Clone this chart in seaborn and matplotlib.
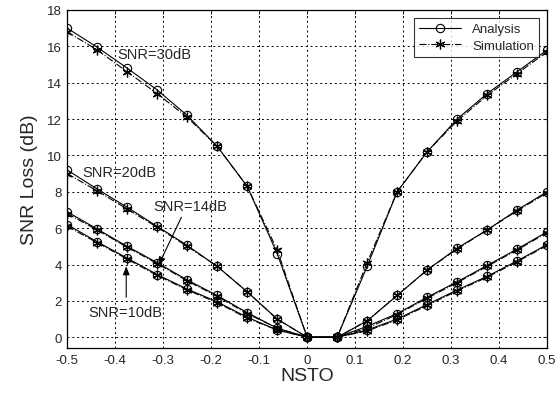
import numpy as np
import pandas as pd
import seaborn as sns
import matplotlib.pyplot as plt

# normalised symbol timing offset, steps of 1/16
nsto = [-0.5, -0.4375, -0.375, -0.3125, -0.25, -0.1875, -0.125, -0.0625,
        0.0, 0.0625, 0.125, 0.1875, 0.25, 0.3125, 0.375, 0.4375, 0.5]

ana_30 = [17.0, 15.95, 14.8, 13.6, 12.2, 10.5, 8.3, 4.6, 0.0, 0.0, 3.9, 8.0, 10.2, 12.0, 13.4, 14.6, 15.8]
sim_30 = [16.8, 15.8, 14.6, 13.4, 12.1, 10.5, 8.3, 4.8, 0.0, 0.0, 4.1, 8.0, 10.2, 11.9, 13.3, 14.5, 15.7]
ana_20 = [9.2, 8.15, 7.15, 6.1, 5.05, 3.9, 2.5, 1.0, 0.0, 0.0, 0.9, 2.3, 3.7, 4.9, 5.9, 7.0, 8.0]
sim_20 = [9.0, 8.05, 7.05, 6.05, 5.0, 3.9, 2.5, 1.0, 0.0, 0.0, 0.9, 2.3, 3.7, 4.85, 5.9, 6.95, 7.95]
ana_14 = [6.9, 5.95, 5.0, 4.1, 3.15, 2.3, 1.35, 0.5, 0.0, 0.0, 0.6, 1.3, 2.2, 3.05, 3.95, 4.85, 5.8]
sim_14 = [6.8, 5.9, 4.95, 4.05, 3.1, 2.25, 1.3, 0.5, 0.0, 0.0, 0.5, 1.25, 2.15, 3.0, 3.9, 4.8, 5.75]
ana_10 = [6.2, 5.25, 4.35, 3.45, 2.65, 1.95, 1.1, 0.4, 0.0, 0.0, 0.4, 1.0, 1.8, 2.6, 3.35, 4.2, 5.1]
sim_10 = [6.1, 5.2, 4.3, 3.4, 2.6, 1.9, 1.05, 0.4, 0.0, 0.0, 0.35, 0.95, 1.75, 2.55, 3.3, 4.15, 5.05]

analysis = [ana_30, ana_20, ana_14, ana_10]
simulation = [sim_30, sim_20, sim_14, sim_10]

sns.set_style("white")
plt.rcParams["font.family"] = ["Liberation Sans", "DejaVu Sans"]

fig = plt.figure(figsize=(5.6, 4.06), dpi=100)
ax = fig.add_axes([0.12, 0.14, 0.857, 0.833])

for i, (a, s) in enumerate(zip(analysis, simulation)):
    sns.lineplot(x=nsto, y=a, ax=ax, color="k", lw=0.8, marker="o", markersize=6,
                 markerfacecolor="none", markeredgecolor="k", markeredgewidth=0.8,
                 label="Analysis" if i == 0 else None)
    sns.lineplot(x=nsto, y=s, ax=ax, color="k", lw=0.8, linestyle="-.", marker=(6, 2, 0),
                 markersize=7, markeredgecolor="k", markeredgewidth=0.9,
                 label="Simulation" if i == 0 else None)

ax.set_xlim(-0.5, 0.5)
ax.set_ylim(-0.6, 18)
ax.set_xticks(np.arange(-0.5, 0.51, 0.1))
ax.set_xticklabels(["-0.5", "-0.4", "-0.3", "-0.2", "-0.1", "0", "0.1", "0.2", "0.3", "0.4", "0.5"])
ax.set_yticks(range(0, 19, 2))
ax.grid(True, color="k", linestyle=(0, (2, 3)), linewidth=0.7)
ax.tick_params(direction="in", length=3, labelsize=9.5, top=True, right=True, pad=4)
for sp in ax.spines.values():
    sp.set_color("k")
    sp.set_linewidth(0.9)

ax.set_xlabel("NSTO", fontsize=14, labelpad=1)
ax.set_ylabel("SNR Loss (dB)", fontsize=14, labelpad=6)

ax.text(-0.395, 15.6, "SNR=30dB", fontsize=10.5, va="center")
ax.text(-0.469, 9.1, "SNR=20dB", fontsize=10.5, va="center")
ax.text(-0.32, 7.2, "SNR=14dB", fontsize=10.5, va="center")
ax.text(-0.456, 1.4, "SNR=10dB", fontsize=10.5, va="center")
arrow = dict(arrowstyle="-|>,head_length=0.5,head_width=0.2", color="k", lw=0.8,
             shrinkA=0, shrinkB=0)
ax.annotate("", xy=(-0.31, 3.95), xytext=(-0.262, 6.6), arrowprops=arrow)
ax.annotate("", xy=(-0.377, 3.9), xytext=(-0.377, 2.2), arrowprops=arrow)

leg = ax.legend(loc="upper right", fontsize=9.5, frameon=True, fancybox=False,
                edgecolor="k", borderaxespad=0.6, handlelength=3.2, labelspacing=0.3)
leg.get_frame().set_linewidth(0.8)

fig.savefig("out.png", dpi=100)
